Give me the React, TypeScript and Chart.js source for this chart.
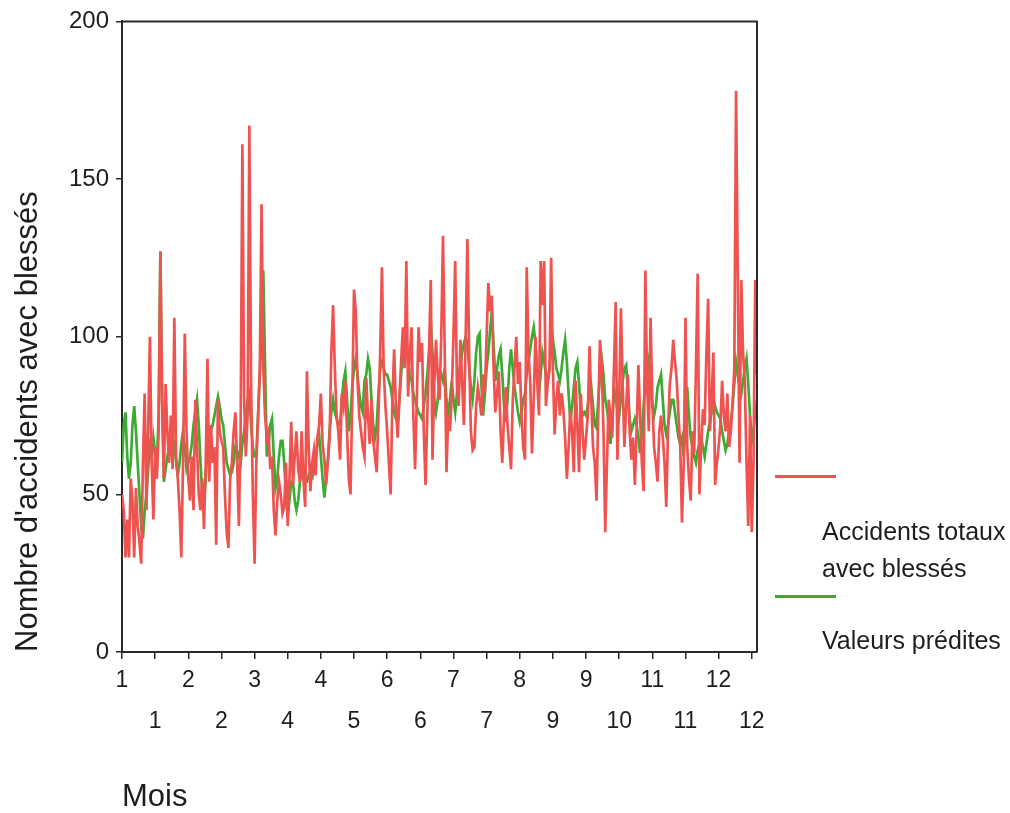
import React, { useEffect, useRef } from 'react';
import { Chart, registerables } from 'chart.js';

Chart.register(...registerables);

// Daily values (365 days)
const accidentsTotaux: number[] = [
  50, 45, 30, 42, 30, 55, 48, 30, 52, 40,
  35, 28, 60, 82, 45, 70, 100, 60, 42, 65,
  55, 70, 127, 80, 55, 85, 70, 60, 75, 58,
  106, 62, 55, 45, 30, 60, 101, 70, 55, 48,
  62, 45, 80, 65, 50, 45, 55, 39, 60, 93,
  54, 72, 60, 65, 34, 80, 70, 67, 65, 50,
  38, 33, 55, 60, 70, 76, 60, 40, 70, 161,
  80, 62, 75, 167, 85, 50, 28, 60, 75, 90,
  142, 90, 75, 68, 70, 58, 62, 45, 37, 48,
  54, 50, 44, 46, 60, 40, 55, 73, 53, 62,
  70, 58, 54, 70, 55, 46, 89, 65, 51, 60,
  64, 56, 68, 72, 82, 66, 61, 53, 60, 68,
  95, 110, 90, 75, 70, 61, 82, 78, 86, 70,
  55, 50, 80, 115, 108, 86, 75, 70, 65, 62,
  87, 75, 66, 80, 67, 62, 57, 75, 95, 122,
  90, 78, 70, 60, 50, 80, 96, 78, 68, 80,
  92, 103, 90, 124, 81, 95, 103, 75, 58, 80,
  103, 92, 98, 70, 53, 75, 95, 118, 61, 85,
  99, 88, 80, 100, 132, 95, 57, 75, 70, 81,
  100, 124, 84, 78, 99, 85, 72, 100, 131, 94,
  70, 64, 65, 78, 84, 80, 75, 88, 82, 100,
  117, 108, 113, 90, 76, 82, 89, 70, 60, 75,
  84, 72, 65, 58, 80, 90, 100, 85, 92, 75,
  65, 61, 122, 95, 86, 63, 80, 100, 86, 75,
  124, 110, 124, 78, 85, 89, 125, 90, 69, 80,
  86, 75, 82, 77, 68, 55, 65, 77, 70, 57,
  86, 72, 57, 82, 70, 61, 68, 75, 97, 80,
  65, 60, 48, 75, 99, 91, 70, 38, 60, 80,
  75, 68, 90, 111, 61, 80, 109, 85, 65, 78,
  88, 70, 61, 68, 53, 70, 91, 75, 60, 51,
  121, 85, 70, 106, 80, 65, 60, 54, 70, 75,
  68, 60, 46, 70, 85, 90, 99, 92, 86, 75,
  65, 41, 60, 106, 65, 55, 48, 70, 63, 90,
  120, 50, 65, 77, 72, 95, 112, 70, 80, 95,
  53, 60, 65, 72, 86, 75, 70, 82, 65, 70,
  79, 90, 178, 118, 60, 118, 95, 86, 60, 40,
  75, 38, 60, 118, 88,
];

const valeursPredites: number[] = [
  60, 72, 76, 62, 55, 60, 72, 78, 70, 60,
  50, 40, 36, 45, 50, 58, 65, 62, 68, 63,
  60, 75, 127, 80, 54, 58, 62, 65, 70, 68,
  66, 60, 56, 60, 66, 70, 65, 58, 60, 62,
  66, 72, 76, 80, 72, 60, 50, 48, 55, 65,
  68, 70, 72, 75, 78, 81, 78, 74, 72, 66,
  60, 58, 56, 57, 60, 65, 64, 62, 60, 66,
  70, 75, 80, 82, 72, 65, 62, 62, 75, 88,
  100, 121, 91, 62, 66, 72, 74, 62, 52, 55,
  62, 67, 67, 60, 50, 43, 48, 54, 54, 48,
  45, 48, 54, 57, 55, 54, 54, 56, 55, 55,
  58, 62, 66, 69, 62, 55, 49, 55, 61, 70,
  76, 80, 76, 74, 72, 72, 80, 86, 89, 80,
  70, 75, 84, 90, 93, 88, 82, 78, 76, 86,
  88, 93, 90, 80, 72, 68, 72, 82, 90, 92,
  90, 88, 88, 86, 84, 80, 76, 74, 73, 80,
  88, 95, 100, 98, 92, 88, 86, 82, 80, 78,
  76, 75, 74, 78, 82, 88, 95, 104, 95, 80,
  76, 80, 86, 88, 86, 90, 80, 75, 80, 86,
  80, 76, 82, 88, 91, 95, 98, 100, 98, 90,
  84, 80, 86, 95, 100, 101, 85, 75, 82, 90,
  95, 102, 108, 98, 86, 90, 94, 96, 88, 78,
  73, 80, 90, 96, 90, 84, 80, 76, 73, 76,
  80, 82, 88, 92, 96, 100, 103, 98, 88, 82,
  88, 95, 92, 88, 86, 90, 95, 99, 95, 90,
  88, 86, 90, 95, 99, 92, 82, 73, 78, 84,
  90, 92, 85, 76, 75, 76, 75, 78, 82, 84,
  78, 72, 71, 80, 88, 93, 88, 80, 77, 72,
  66, 72, 84, 80, 77, 75, 80, 86, 90, 91,
  82, 74, 70, 72, 74, 72, 68, 63, 70, 78,
  86, 90, 93, 85, 78, 75, 78, 84, 86, 88,
  80, 72, 69, 72, 76, 80, 80, 76, 72, 68,
  66, 68, 62, 72, 84, 75, 68, 65, 62, 60,
  64, 66, 68, 65, 62, 66, 70, 73, 76, 80,
  78, 76, 75, 74, 70, 67, 64, 66, 70, 73,
  78, 85, 92, 88, 84, 82, 86, 90, 93, 85,
  75, 67, 70, 76, 80,
];

// X axis: a tick every 19 days, labelled with the month of that day (two alternating rows)
const tickDays = [0, 19, 38, 57, 76, 95, 114, 133, 152, 171, 190, 209, 228, 247, 266, 285, 304, 323, 342, 361];
const tickMonths = ['1', '1', '2', '2', '3', '4', '4', '5', '6', '6', '7', '7', '8', '9', '9', '10', '11', '11', '12', '12'];
const yTicks = [0, 50, 100, 150, 200];

const RED = '#ef5350';
const GREEN = '#3cab33';
const AXIS = '#2a2a2a';
const TEXT = '#1e1e1e';
const FONT = '"Liberation Sans", Arial, Helvetica, sans-serif';

const framePlugin = {
  id: 'frame',
  afterDatasetsDraw(chart: any) {
    const { ctx, chartArea: a } = chart;
    ctx.save();
    ctx.strokeStyle = AXIS;
    ctx.lineWidth = 2;
    ctx.beginPath();
    ctx.moveTo(a.left, a.top);
    ctx.lineTo(a.right, a.top);
    ctx.lineTo(a.right, a.bottom);
    ctx.stroke();
    ctx.restore();
  },
};

export default function App() {
  const ref = useRef<HTMLCanvasElement>(null);

  useEffect(() => {
    if (!ref.current) return;
    const chart = new Chart(ref.current, {
      type: 'line',
      data: {
        datasets: [
          {
            label: 'Accidents totaux avec blessés',
            data: accidentsTotaux.map((v, i) => ({ x: i, y: v })),
            borderColor: RED,
            borderWidth: 2.7,
            pointRadius: 0,
            tension: 0,
            fill: false,
          },
          {
            label: 'Valeurs prédites',
            data: valeursPredites.map((v, i) => ({ x: i, y: v })),
            borderColor: GREEN,
            borderWidth: 2.7,
            pointRadius: 0,
            tension: 0,
            fill: false,
          },
        ],
      },
      options: {
        animation: false,
        responsive: false,
        maintainAspectRatio: false,
        layout: { padding: { top: 17, right: 253, bottom: 0, left: 0 } },
        plugins: { legend: { display: false }, tooltip: { enabled: false } },
        scales: {
          x: {
            type: 'linear',
            min: 0,
            max: 364,
            afterBuildTicks: (s: any) => {
              s.ticks = tickDays.map((v) => ({ value: v }));
            },
            afterFit: (s: any) => {
              s.height = 161;
            },
            ticks: {
              autoSkip: false,
              maxRotation: 0,
              minRotation: 0,
              padding: 1,
              color: TEXT,
              font: { family: FONT, size: 23, lineHeight: 41 / 23 },
              callback: (_v: any, i: number) =>
                i % 2 === 0 ? [tickMonths[i], ''] : ['', tickMonths[i]],
            },
            grid: { drawOnChartArea: false, tickLength: 7, color: AXIS, lineWidth: 1.5 },
            border: { color: AXIS, width: 2 },
            title: {
              display: true,
              text: 'Mois',
              align: 'start',
              color: TEXT,
              font: { family: FONT, size: 31, lineHeight: 1 },
              padding: { top: 0, bottom: 0 },
            },
          },
          y: {
            min: 0,
            max: 200,
            afterBuildTicks: (s: any) => {
              s.ticks = yTicks.map((v) => ({ value: v }));
            },
            afterFit: (s: any) => {
              s.width = 122;
            },
            ticks: {
              padding: 7,
              color: TEXT,
              font: { family: FONT, size: 24 },
            },
            grid: { drawOnChartArea: false, tickLength: 6, color: AXIS, lineWidth: 1.5 },
            border: { color: AXIS, width: 2 },
            title: {
              display: true,
              text: "Nombre d'accidents avec blessés",
              align: 'start',
              color: TEXT,
              font: { family: FONT, size: 31, lineHeight: 1.2 },
              padding: { top: 10, bottom: 0 },
            },
          },
        },
      },
      plugins: [framePlugin],
    } as any);
    return () => chart.destroy();
  }, []);

  const legendText: React.CSSProperties = {
    position: 'absolute',
    left: 822,
    fontFamily: FONT,
    fontSize: 25,
    lineHeight: '25px',
    color: TEXT,
    whiteSpace: 'nowrap',
  };

  return (
    <div style={{ position: 'fixed', left: 0, top: 0, width: 1010, height: 813, background: '#fff' }}>
      <canvas ref={ref} width={1010} height={813} style={{ display: 'block', width: 1010, height: 813 }} />
      <div style={{ position: 'absolute', left: 775, top: 475, width: 61, height: 3, background: RED }} />
      <div style={{ ...legendText, top: 519 }}>Accidents totaux</div>
      <div style={{ ...legendText, top: 556 }}>avec blessés</div>
      <div style={{ position: 'absolute', left: 775, top: 595, width: 61, height: 3, background: GREEN }} />
      <div style={{ ...legendText, top: 628 }}>Valeurs prédites</div>
    </div>
  );
}
